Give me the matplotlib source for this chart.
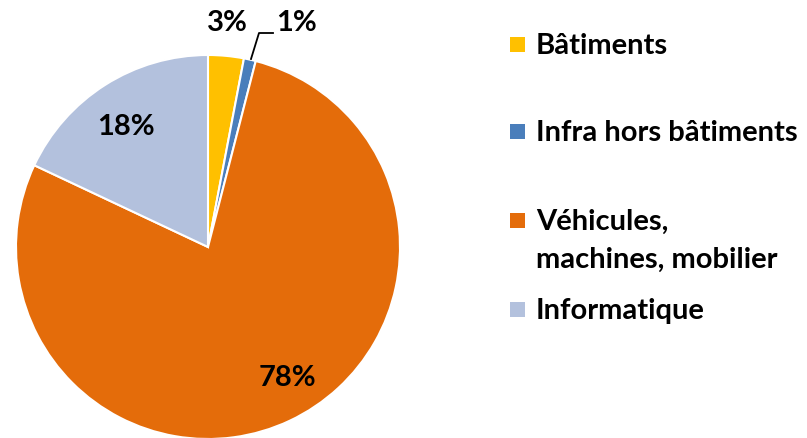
import numpy as np
import matplotlib.pyplot as plt
from matplotlib.patches import Rectangle

# Données
categories = ['Bâtiments', 'Infra hors bâtiments', 'Véhicules,\nmachines, mobilier', 'Informatique']
valeurs = [3, 1, 78, 18]
couleurs = ['#FFC000', '#4A7EBB', '#E46C0A', '#B3C1DD']
etiquettes = ['3%', '1%', '78%', '18%']

plt.rcParams['font.family'] = ['Lato', 'DejaVu Sans']

W, H = 807, 439
fig = plt.figure(figsize=(W / 100, H / 100), dpi=100)
ax = fig.add_axes([0, 0, 1, 1])

cx, cy, r = 208, H - 248, 192
wedges, _ = ax.pie(valeurs, colors=couleurs, startangle=90, counterclock=False,
                   center=(cx, cy), radius=r, frame=True,
                   wedgeprops=dict(edgecolor='white', linewidth=1.5))
ax.set_xlim(0, W)
ax.set_ylim(0, H)
ax.axis('off')

# Étiquettes de pourcentage
style = dict(fontsize=21, fontweight='bold', ha='center', va='center', color='black')
ax.text(227, H - 23, etiquettes[0], **style)
ax.text(297, H - 23, etiquettes[1], **style)
ax.plot([251, 259, 273], [H - 60, H - 34, H - 34], color='black', lw=1.3)
ax.text(287, H - 378, etiquettes[2], **style)
ax.text(126, H - 127, etiquettes[3], **style)

# Légende manuelle
ys = [46, 133, 222, 311]
for lab, col, y in zip(categories, couleurs, ys):
    ax.add_patch(Rectangle((510, H - y - 7), 15, 15, color=col, lw=0))
    for k, ligne in enumerate(lab.split('\n')):
        ax.text(536, H - y - 38 * k, ligne, fontsize=21, fontweight='bold',
                ha='left', va='center')

fig.savefig('out.png', dpi=100)
